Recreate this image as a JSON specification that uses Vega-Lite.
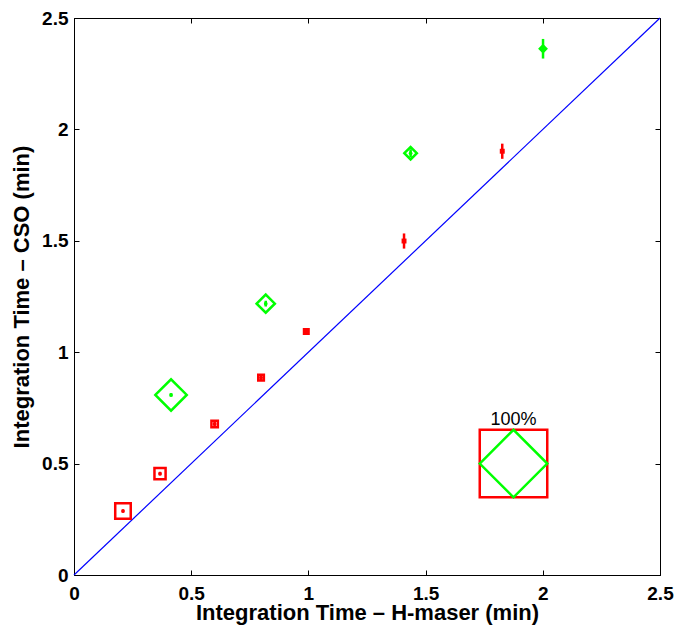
{
  "$schema": "https://vega.github.io/schema/vega-lite/v6.json",
  "width": 586,
  "height": 557,
  "autosize": "none",
  "padding": {"left": 74, "top": 18, "right": 17, "bottom": 53},
  "config": {
    "view": {"stroke": "black", "strokeWidth": 1},
    "axis": {
      "grid": false,
      "domainColor": "black",
      "tickColor": "black",
      "labelColor": "black",
      "titleColor": "black",
      "labelFont": "Liberation Sans",
      "titleFont": "Liberation Sans",
      "labelFontSize": 19,
      "titleFontSize": 22,
      "labelFontWeight": "bold",
      "titleFontWeight": "bold",
      "labelFlush": false,
      "tickSize": -5
    },
    "text": {"font": "Liberation Sans"}
  },
  "datasets": {
    "diag": [{"x": 0, "y": 0}, {"x": 2.5, "y": 2.5}],
    "squares": [
      {"x": 0.209, "y": 0.287, "pct": 23, "lo": 0.28, "hi": 0.295},
      {"x": 0.367, "y": 0.455, "pct": 16.5, "lo": 0.447, "hi": 0.463},
      {"x": 0.600, "y": 0.678, "pct": 9.5, "lo": 0.668, "hi": 0.688},
      {"x": 0.798, "y": 0.886, "pct": 8.3, "lo": 0.875, "hi": 0.897},
      {"x": 0.991, "y": 1.093, "pct": 6.7, "lo": 1.08, "hi": 1.106},
      {"x": 1.408, "y": 1.499, "pct": 3.6, "lo": 1.465, "hi": 1.533},
      {"x": 1.827, "y": 1.902, "pct": 3.6, "lo": 1.868, "hi": 1.936}
    ],
    "diamonds": [
      {"x": 0.414, "y": 0.808, "pct": 46.5, "lo": 0.8, "hi": 0.816},
      {"x": 0.818, "y": 1.218, "pct": 27, "lo": 1.205, "hi": 1.231},
      {"x": 1.436, "y": 1.893, "pct": 18.5, "lo": 1.875, "hi": 1.911},
      {"x": 2.001, "y": 2.362, "pct": 9.3, "lo": 2.318, "hi": 2.406}
    ],
    "legend": [{"x": 1.875, "y": 0.5, "pct": 100, "label": "100%", "ly": 0.673}]
  },
  "layer": [
    {
      "data": {"name": "diag"},
      "mark": {"type": "line", "color": "#0000ff", "strokeWidth": 1.2},
      "encoding": {
        "x": {"field": "x", "type": "quantitative",
              "scale": {"domain": [0, 2.5], "nice": false, "zero": false},
              "axis": {"orient": "bottom", "values": [0, 0.5, 1, 1.5, 2, 2.5], "format": "~g",
                       "title": "Integration Time – H-maser (min)", "labelPadding": 14, "titlePadding": -1}},
        "y": {"field": "y", "type": "quantitative",
              "scale": {"domain": [0, 2.5], "nice": false, "zero": false},
              "axis": {"orient": "left", "values": [0, 0.5, 1, 1.5, 2, 2.5], "format": "~g",
                       "title": "Integration Time – CSO (min)", "labelPadding": 11, "titlePadding": 8}}
      }
    },
    {
      "data": {"name": "diag"},
      "mark": {"type": "line", "opacity": 0},
      "encoding": {
        "x": {"field": "x", "type": "quantitative",
              "axis": {"orient": "top", "values": [0, 0.5, 1, 1.5, 2, 2.5], "labels": false, "title": null, "domain": false}},
        "y": {"field": "y", "type": "quantitative",
              "axis": {"orient": "right", "values": [0, 0.5, 1, 1.5, 2, 2.5], "labels": false, "title": null, "domain": false}}
      }
    },
    {
      "data": {"name": "squares"},
      "mark": {"type": "rule", "color": "#ff0000", "strokeWidth": 2.5},
      "encoding": {
        "x": {"field": "x", "type": "quantitative", "axis": null},
        "y": {"field": "lo", "type": "quantitative", "axis": null},
        "y2": {"field": "hi"}
      }
    },
    {
      "data": {"name": "diamonds"},
      "mark": {"type": "rule", "color": "#00ff00", "strokeWidth": 2.5},
      "encoding": {
        "x": {"field": "x", "type": "quantitative", "axis": null},
        "y": {"field": "lo", "type": "quantitative", "axis": null},
        "y2": {"field": "hi"}
      }
    },
    {
      "data": {"name": "squares"},
      "mark": {"type": "point", "shape": "square", "filled": false, "color": "#ff0000", "strokeWidth": 2.5, "opacity": 1},
      "encoding": {
        "x": {"field": "x", "type": "quantitative", "axis": null},
        "y": {"field": "y", "type": "quantitative", "axis": null},
        "size": {"field": "pct", "type": "quantitative",
                 "scale": {"type": "pow", "exponent": 2, "domain": [0, 100], "range": [0, 4556]}, "legend": null}
      }
    },
    {
      "data": {"name": "diamonds"},
      "mark": {"type": "point", "shape": "diamond", "filled": false, "color": "#00ff00", "strokeWidth": 2.5, "opacity": 1},
      "encoding": {
        "x": {"field": "x", "type": "quantitative", "axis": null},
        "y": {"field": "y", "type": "quantitative", "axis": null},
        "size": {"field": "pct", "type": "quantitative", "legend": null}
      }
    },
    {
      "data": {"name": "squares"},
      "mark": {"type": "point", "shape": "circle", "filled": true, "color": "#ff0000", "size": 14, "opacity": 1},
      "encoding": {
        "x": {"field": "x", "type": "quantitative", "axis": null},
        "y": {"field": "y", "type": "quantitative", "axis": null}
      }
    },
    {
      "data": {"name": "diamonds"},
      "mark": {"type": "point", "shape": "circle", "filled": true, "color": "#00ff00", "size": 14, "opacity": 1},
      "encoding": {
        "x": {"field": "x", "type": "quantitative", "axis": null},
        "y": {"field": "y", "type": "quantitative", "axis": null}
      }
    },
    {
      "data": {"name": "legend"},
      "mark": {"type": "point", "shape": "square", "filled": false, "color": "#ff0000", "strokeWidth": 2.5, "opacity": 1},
      "encoding": {
        "x": {"field": "x", "type": "quantitative", "axis": null},
        "y": {"field": "y", "type": "quantitative", "axis": null},
        "size": {"field": "pct", "type": "quantitative", "legend": null}
      }
    },
    {
      "data": {"name": "legend"},
      "mark": {"type": "point", "shape": "diamond", "filled": false, "color": "#00ff00", "strokeWidth": 2.5, "opacity": 1},
      "encoding": {
        "x": {"field": "x", "type": "quantitative", "axis": null},
        "y": {"field": "y", "type": "quantitative", "axis": null},
        "size": {"field": "pct", "type": "quantitative", "legend": null}
      }
    },
    {
      "data": {"name": "legend"},
      "mark": {"type": "text", "fontSize": 18, "color": "black", "baseline": "alphabetic", "align": "center"},
      "encoding": {
        "x": {"field": "x", "type": "quantitative", "axis": null},
        "y": {"field": "ly", "type": "quantitative", "axis": null},
        "text": {"field": "label"}
      }
    }
  ],
  "resolve": {"axis": {"x": "independent", "y": "independent"}}
}
